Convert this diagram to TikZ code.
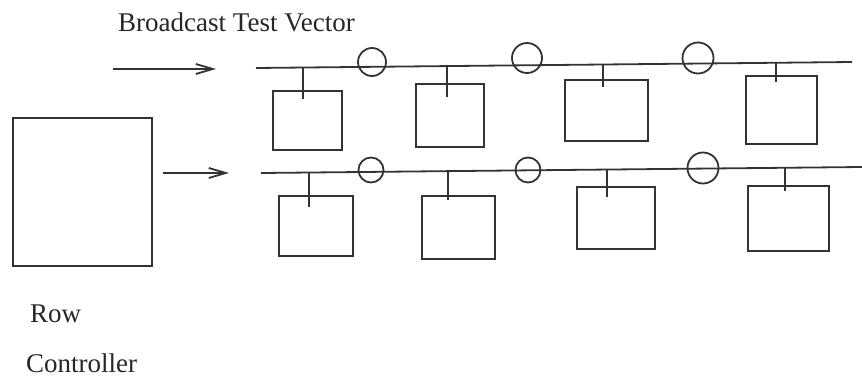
\documentclass[tikz,border=0pt]{standalone}
\usepackage{fontspec}
\setmainfont{Liberation Serif}
\usetikzlibrary{arrows.meta}
\tikzstyle{cell}=[draw=black!80,rectangle,inner sep=0,line width=1.8pt]
\tikzstyle{ring}=[draw=black!80,circle,inner sep=0,line width=1.8pt]
\tikzstyle{wire}=[draw=black!80,line width=1.8pt]
\tikzstyle{feed}=[draw=black!80,line width=1.8pt,-{Straight Barb[length=17pt,width=10pt]}]
\tikzstyle{lbl}=[inner sep=0,anchor=base west,text=black!85,font=\fontsize{27}{31}\selectfont]

\begin{document}
\begin{tikzpicture}[x=1pt,y=-1pt]
\useasboundingbox (0,0) rectangle (862,382);
% labels
\node[lbl] (title) at (118,32) {Broadcast Test Vector};
\node[lbl] (row) at (30,322) {Row};
\node[lbl] (ctl) at (26,372) {Controller};
% row controller
\node[cell,minimum width=139pt,minimum height=148pt] (rc) at (82.5,192) {};
% inputs
\coordinate (inA) at (113,69);
\coordinate (inB) at (216,69);
\coordinate (inC) at (163,173);
\coordinate (inD) at (229,173);
\draw[feed] (inA) -- (inB);
\draw[feed] (inC) -- (inD);
% upper bus
\coordinate (topL) at (256,68);
\coordinate (topR) at (852,62);
\draw[wire] (topL) -- (topR);
\node[ring,minimum size=28pt] (r1) at (372,62) {};
\node[ring,minimum size=30pt] (r2) at (527,58) {};
\node[ring,minimum size=31pt] (r3) at (698,58) {};
\node[cell,minimum width=69pt,minimum height=59pt] (c1) at (307.5,120.5) {};
\node[cell,minimum width=68pt,minimum height=63pt] (c2) at (450,115.5) {};
\node[cell,minimum width=83pt,minimum height=61pt] (c3) at (606.5,110.5) {};
\node[cell,minimum width=71pt,minimum height=68pt] (c4) at (781.5,110) {};
\coordinate (t1) at (303,67.5); \coordinate (s1) at (303,99);
\coordinate (t2) at (447,66.1); \coordinate (s2) at (447,97);
\coordinate (t3) at (603,64.5); \coordinate (s3) at (603,87);
\coordinate (t4) at (776,62.8); \coordinate (s4) at (776,82);
\draw[wire] (t1) -- (s1);
\draw[wire] (t2) -- (s2);
\draw[wire] (t3) -- (s3);
\draw[wire] (t4) -- (s4);
% lower bus
\coordinate (botL) at (261,173);
\coordinate (botR) at (862,167);
\draw[wire] (botL) -- (botR);
\node[ring,minimum size=25pt] (r5) at (371,170) {};
\node[ring,minimum size=25pt] (r6) at (528,170) {};
\node[ring,minimum size=31pt] (r7) at (703,168) {};
\node[cell,minimum width=74pt,minimum height=60pt] (c5) at (316,226) {};
\node[cell,minimum width=73pt,minimum height=63pt] (c6) at (458.5,227.5) {};
\node[cell,minimum width=78pt,minimum height=62pt] (c7) at (616,218) {};
\node[cell,minimum width=81pt,minimum height=65pt] (c8) at (788.5,218.5) {};
\coordinate (t5) at (309,172.5); \coordinate (s5) at (309,207);
\coordinate (t6) at (448,171.1); \coordinate (s6) at (448,200);
\coordinate (t7) at (607,169.5); \coordinate (s7) at (607,197);
\coordinate (t8) at (785,167.8); \coordinate (s8) at (785,191);
\draw[wire] (t5) -- (s5);
\draw[wire] (t6) -- (s6);
\draw[wire] (t7) -- (s7);
\draw[wire] (t8) -- (s8);
\end{tikzpicture}
\end{document}
